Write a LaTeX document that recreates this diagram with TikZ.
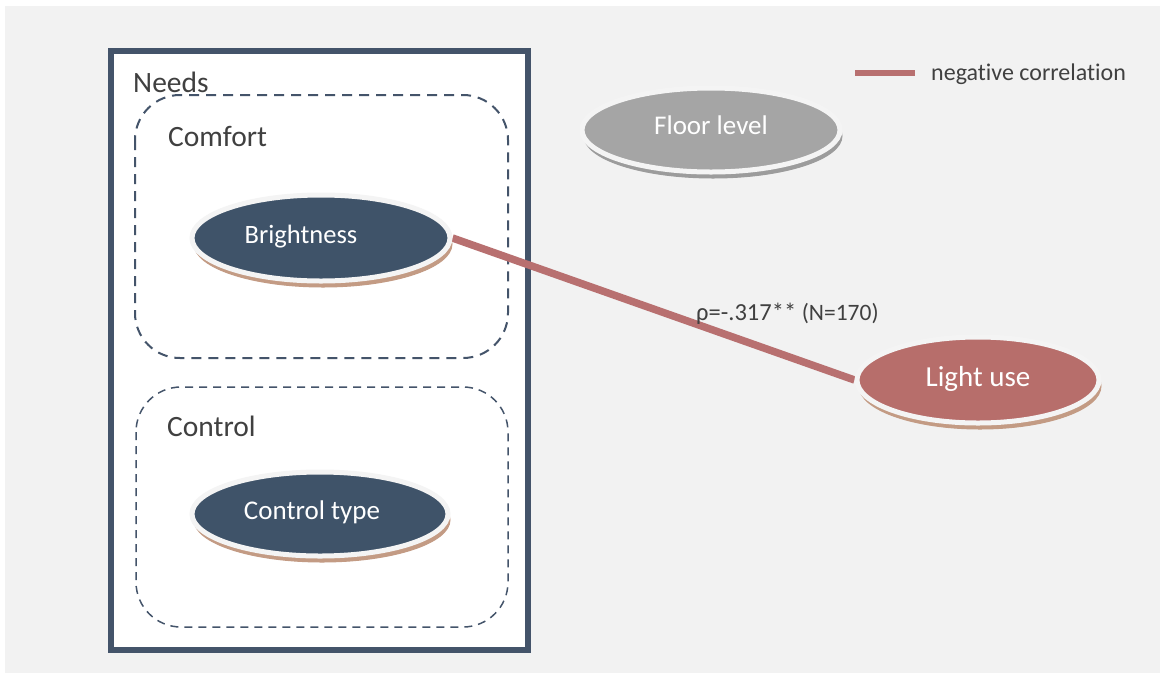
\documentclass[tikz,border=0pt]{standalone}
\usepackage{fontspec}
\setmainfont{Carlito}[Ligatures={NoCommon,NoRequired,NoContextual}]
\usetikzlibrary{shapes.geometric,shadows}
\definecolor{navy}{HTML}{44546A}
\definecolor{ellnavy}{HTML}{3F5369}
\definecolor{corrred}{HTML}{B87070}
\definecolor{lightred}{HTML}{B76E6B}
\definecolor{floorgray}{HTML}{A5A5A5}
\definecolor{shadowbrown}{HTML}{C39B84}
\definecolor{shadowgray}{HTML}{9C9C9C}
\definecolor{txt}{HTML}{404040}
\definecolor{bgc}{HTML}{F2F2F2}
\definecolor{ringc}{HTML}{F4F4F4}
\pgfdeclarelayer{back}
\pgfdeclarelayer{mid}
\pgfsetlayers{back,mid,main}
\tikzset{
  ell/.style={ellipse, draw=ringc, line width=5pt, inner sep=0pt},
  brownshadow/.style={copy shadow={shadow xshift=2pt, shadow yshift=-6pt, fill=shadowbrown, draw=shadowbrown, line width=1pt}},
  grayshadow/.style={copy shadow={shadow xshift=2pt, shadow yshift=-6pt, fill=shadowgray, draw=shadowgray, line width=1pt}},
  elltext/.style={text=white, inner sep=0pt, anchor=base},
  grouplabel/.style={text=txt, inner sep=0pt, anchor=base west, font=\fontsize{29.5}{32}\selectfont},
  groupbox/.style={draw=navy, rounded corners=45pt},
  corr/.style={draw=corrred, line width=7.5pt},
}
\begin{document}
\begin{tikzpicture}[x=1pt,y=-1pt]
\useasboundingbox (0,0) rectangle (1160,673);
\begin{pgfonlayer}{back}
  \fill[bgc] (5,6) rectangle (1160,673);
  \draw[navy, line width=6pt, fill=white] (111,51) rectangle (528,650);
  \draw[groupbox, line width=2pt, dash pattern=on 10pt off 7pt] (135,95) rectangle (508,358);
  \draw[groupbox, line width=1.5pt, dash pattern=on 8pt off 6pt] (136,387) rectangle (508,627);
\end{pgfonlayer}
\node[grouplabel] (needs) at (133,92) {Needs};
\node[grouplabel] (comfort) at (168,146) {Comfort};
\node[grouplabel] (control) at (167,436) {Control};
% ellipses
\node[ell, brownshadow, fill=ellnavy, minimum width=258pt, minimum height=86pt] (bright) at (321,238) {};
\node[elltext, font=\fontsize{26.5}{30}\selectfont] (brighttxt) at (301,243) {Brightness};
\node[ell, brownshadow, fill=ellnavy, minimum width=256pt, minimum height=84pt] (ctype) at (320,514) {};
\node[elltext, font=\fontsize{27}{30}\selectfont] (ctypetxt) at (312,519) {Control type};
\node[ell, grayshadow, fill=floorgray, minimum width=258pt, minimum height=84pt] (floor) at (711,130) {};
\node[elltext, font=\fontsize{27}{30}\selectfont] (floortxt) at (711,134) {Floor level};
\node[ell, brownshadow, fill=lightred, minimum width=242pt, minimum height=86pt] (light) at (978,380) {};
\node[elltext, font=\fontsize{29}{32}\selectfont] (lighttxt) at (978,386) {Light use};
% connector
\begin{pgfonlayer}{mid}
  \draw[corr] (bright.east) -- (light.west);
\end{pgfonlayer}
\node[text=txt, inner sep=0pt, anchor=base west] (rho) at (696,320) {\fontsize{24.5}{28}\selectfont ρ=-.317** \fontsize{23.5}{26}\selectfont (N=170)};
% legend
\coordinate (lg1) at (855,73);
\coordinate (lg2) at (915,73);
\draw[corr, line width=6pt] (lg1) -- (lg2);
\node[text=txt, inner sep=0pt, anchor=base west, font=\fontsize{24}{28}\selectfont] (legendtxt) at (931,80) {negative correlation};
\end{tikzpicture}
\end{document}
